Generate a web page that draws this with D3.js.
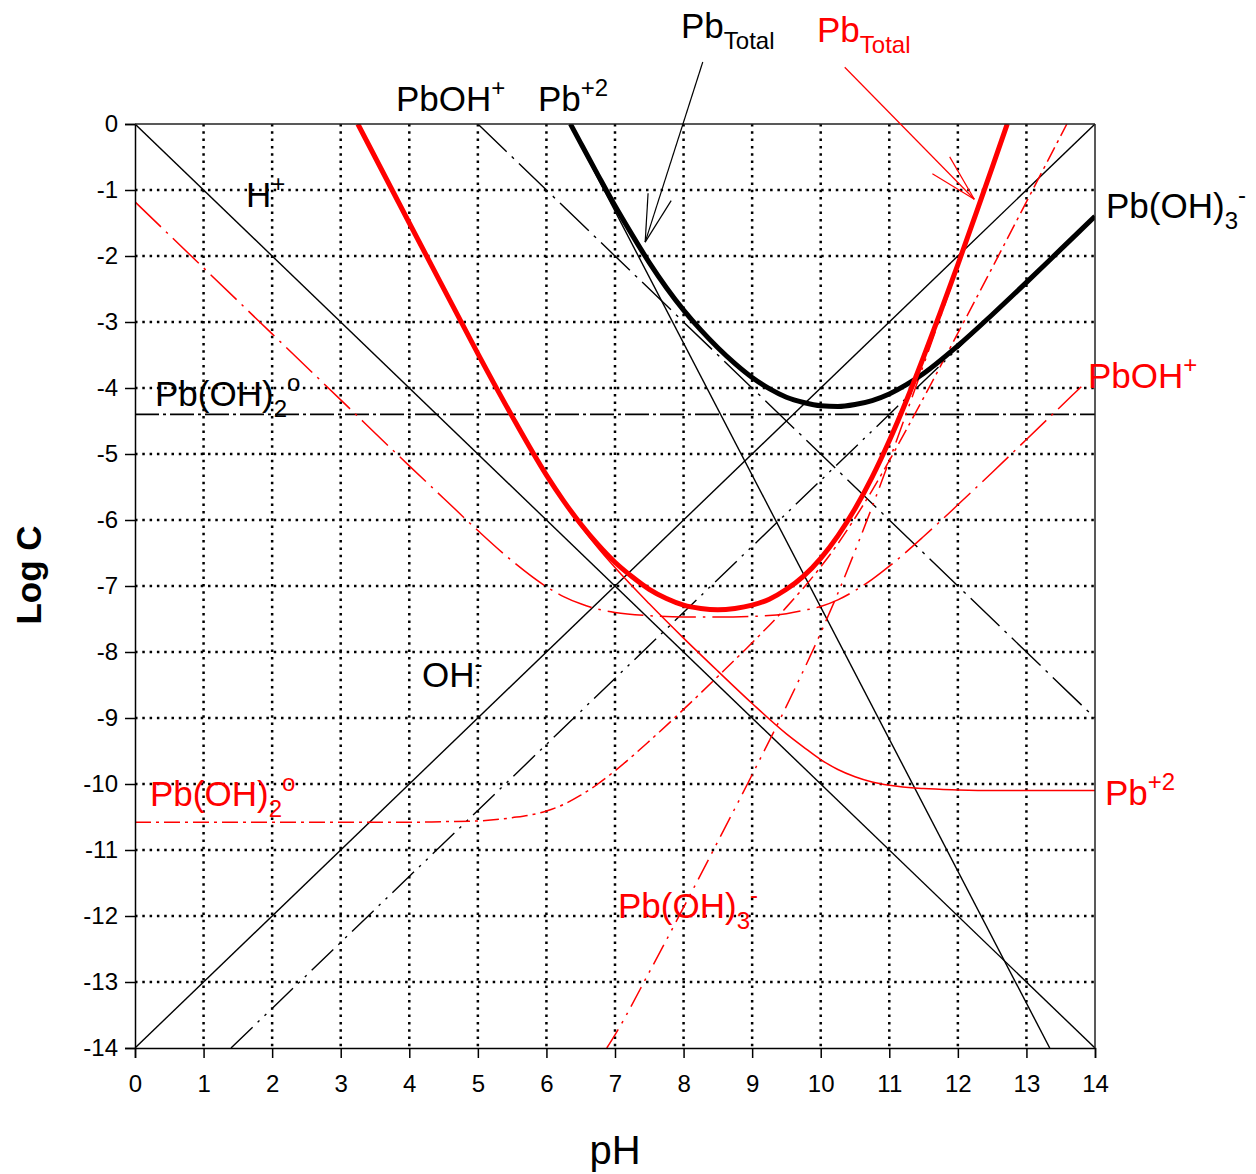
<!DOCTYPE html>
<html><head><meta charset="utf-8">
<script src="https://cdn.jsdelivr.net/npm/d3@7"></script>
<style>
body{margin:0;background:#fff;}
svg text{font-family:"Liberation Sans",Arial,Helvetica,sans-serif;}
</style></head><body>
<svg id="chart" width="1256" height="1174"></svg>
<script>
// ---------- tick values ----------
const pHTicks = [0,1,2,3,4,5,6,7,8,9,10,11,12,13,14];
const logTicks = [0,-1,-2,-3,-4,-5,-6,-7,-8,-9,-10,-11,-12,-13,-14];

// ---------- black system ----------
const blackHplus   = [[0,0],[14,-14]];
const blackOHminus = [[0,-14],[14,0]];
const blackPb2     = [[6.34,0],[13.34,-14]];
const blackPbOH    = [[5.0,0],[14,-9.0]];
const blackPbOH2   = [[0,-4.4],[14,-4.4]];
const blackPbOH3   = [[1.4,-14],[14,-1.4]];
const blackTotal = [[6.35,0],[6.5,-0.29],[6.75,-0.77],[7,-1.24],[7.25,-1.68],[7.5,-2.10],[7.75,-2.48],
  [8,-2.82],[8.25,-3.12],[8.5,-3.39],[8.75,-3.63],[9,-3.84],[9.25,-4.01],[9.5,-4.14],[9.75,-4.22],
  [10,-4.27],[10.25,-4.28],[10.5,-4.25],[10.75,-4.19],[11,-4.09],[11.25,-3.95],[11.5,-3.78],
  [12,-3.36],[12.5,-2.89],[13,-2.40],[13.5,-1.90],[14,-1.40]];

// ---------- red system ----------
const redPb2 = [[3.25,0],[3.5,-0.50],[4,-1.50],[4.5,-2.49],[5,-3.48],[5.5,-4.43],[6,-5.33],[6.25,-5.73],
  [6.5,-6.09],[6.75,-6.42],[7,-6.72],[7.5,-7.27],[8,-7.79],[8.5,-8.29],[9,-8.78],[9.5,-9.24],[9.75,-9.44],
  [10,-9.63],[10.25,-9.78],[10.5,-9.89],[10.75,-9.97],[11,-10.02],[11.5,-10.07],[12,-10.09],[12.5,-10.10],
  [13,-10.10],[14,-10.10]];
const redPbOH = [[0,-1.18],[1,-2.18],[2,-3.18],[3,-4.18],[4,-5.18],[4.5,-5.67],[5,-6.16],[5.5,-6.62],
  [6,-7.01],[6.25,-7.16],[6.5,-7.27],[6.75,-7.35],[7,-7.40],[7.5,-7.45],[8,-7.47],[8.5,-7.47],[9,-7.46],
  [9.5,-7.42],[9.75,-7.37],[10,-7.31],[10.25,-7.21],[10.5,-7.07],[10.75,-6.90],[11,-6.70],[11.5,-6.25],
  [12,-5.77],[12.5,-5.28],[13,-4.78],[13.5,-4.28],[13.8,-3.98]];
const redPbOH2 = [[0,-10.58],[1,-10.58],[2,-10.58],[3,-10.58],[4,-10.58],[4.5,-10.57],[5,-10.56],
  [5.5,-10.51],[6,-10.41],[6.25,-10.31],[6.5,-10.17],[6.75,-10.00],[7,-9.80],[7.5,-9.35],[8,-8.87],
  [8.5,-8.37],[9,-7.86],[9.5,-7.32],[10,-6.71],[10.25,-6.36],[10.5,-5.97],[10.75,-5.55],[11,-5.10],
  [11.25,-4.63],[11.5,-4.15],[12,-3.17],[12.5,-2.18],[13,-1.18],[13.59,0]];
const redPbOH3 = [[6.88,-14.0],[7,-13.80],[7.5,-12.85],[8,-11.87],[8.5,-10.87],[9,-9.86],[9.5,-8.82],
  [10,-7.71],[10.25,-7.11],[10.5,-6.47],[10.75,-5.80],[11,-5.10],[11.25,-4.38],[11.5,-3.65],
  [11.75,-2.91],[12,-2.17],[12.5,-0.68],[12.73,0]];
const redTotal = [[3.25,0],[3.5,-0.50],[4,-1.50],[4.5,-2.49],[5,-3.48],[5.5,-4.43],[6,-5.32],[6.25,-5.71],
  [6.5,-6.06],[6.75,-6.37],[7,-6.64],[7.25,-6.86],[7.5,-7.05],[7.75,-7.19],[8,-7.29],[8.25,-7.34],
  [8.5,-7.36],[8.75,-7.34],[9,-7.29],[9.25,-7.20],[9.5,-7.05],[9.75,-6.85],[10,-6.58],[10.25,-6.24],
  [10.5,-5.83],[10.75,-5.35],[11,-4.80],[11.25,-4.19],[11.5,-3.53],[11.75,-2.84],[12,-2.13],
  [12.25,-1.40],[12.5,-0.66],[12.72,0]];

// ---------- layout ----------
const svg = d3.select("#chart");
const X0 = 135, X1 = 1095, Y0 = 124, Y1 = 1048;
const x = d3.scaleLinear().domain([0,14]).range([X0,X1]);
const y = d3.scaleLinear().domain([0,-14]).range([Y0,Y1]);

svg.append("rect").attr("width",1256).attr("height",1174).attr("fill","#fff");

svg.append("clipPath").attr("id","plotclip").append("rect")
  .attr("x",X0).attr("y",Y0).attr("width",X1-X0).attr("height",Y1-Y0);

// grid
const grid = svg.append("g");
grid.selectAll("line.v").data(pHTicks.filter(d=>d>0&&d<14)).join("line")
  .attr("x1",d=>x(d)).attr("x2",d=>x(d)).attr("y1",Y0).attr("y2",Y1)
  .attr("stroke","#000").attr("stroke-width",2.5).attr("stroke-dasharray","2.5,4.8");
grid.selectAll("line.h").data(logTicks.filter(d=>d<0&&d>-14)).join("line")
  .attr("y1",d=>y(d)).attr("y2",d=>y(d)).attr("x1",X0).attr("x2",X1)
  .attr("stroke","#000").attr("stroke-width",2.5).attr("stroke-dasharray","2.5,4.8");

const line = d3.line().x(d=>x(d[0])).y(d=>y(d[1])).curve(d3.curveMonotoneX);
const plot = svg.append("g").attr("clip-path","url(#plotclip)");
function draw(data, color, width, dash){
  plot.append("path").datum(data).attr("d",line).attr("fill","none")
    .attr("stroke",color).attr("stroke-width",width)
    .attr("stroke-dasharray",dash||null).attr("stroke-linejoin","round");
}
// black thin
draw(blackHplus,"#000",1.4);
draw(blackOHminus,"#000",1.4);
draw(blackPb2,"#000",1.4);
draw(blackPbOH,"#000",1.4,"40,7,3,7");
draw(blackPbOH2,"#000",1.6,"24,4,3,4");
draw(blackPbOH3,"#000",1.4,"30,7,2.5,7,2.5,7");
// red thin
draw(redPbOH,"#ff0000",1.5,"36,7,2.5,7");
draw(redPbOH2,"#ff0000",1.5,"16,5,3,5");
draw(redPbOH3,"#ff0000",1.5,"22,7,2.5,7,2.5,7");
draw(redPb2,"#ff0000",1.5);
// thick
draw(blackTotal,"#000",5);
draw(redTotal,"#ff0000",5);

// axes
const xAxis = svg.append("g").attr("transform",`translate(0,${Y1})`)
  .call(d3.axisBottom(x).tickValues(pHTicks).tickFormat(d3.format("d")).tickSize(10).tickPadding(17));
const yAxis = svg.append("g").attr("transform",`translate(${X0},0)`)
  .call(d3.axisLeft(y).tickValues(logTicks).tickFormat(d=>d===0?"0":"-"+Math.abs(d)).tickSize(10).tickPadding(7));
[xAxis,yAxis].forEach(a=>{
  a.selectAll("path,line").attr("stroke","#000").attr("stroke-width",1.5);
  a.selectAll("text").attr("font-size",24).attr("fill","#000")
   .style("font-family","'Liberation Sans',Arial,sans-serif");
});
// frame top & right
svg.append("line").attr("x1",X0).attr("x2",X1).attr("y1",Y0).attr("y2",Y0).attr("stroke","#222").attr("stroke-width",1.5);
svg.append("line").attr("x1",X1).attr("x2",X1).attr("y1",Y0).attr("y2",Y1).attr("stroke","#222").attr("stroke-width",1.5);

// axis titles
svg.append("text").attr("x",615).attr("y",1164).attr("text-anchor","middle")
  .attr("font-size",40).text("pH");
svg.append("text").attr("transform","translate(41,575) rotate(-90)").attr("text-anchor","middle")
  .attr("font-size",35).attr("font-weight","bold").text("Log C");

// species labels
function label(px, py, parts, color){
  const t = svg.append("text").attr("x",px).attr("y",py).attr("fill",color).attr("font-size",35);
  let shift = 0;
  parts.forEach(p=>{
    const [txt, kind] = p;
    let target = kind==="sub" ? 11 : kind==="sup" ? -15 : 0;
    t.append("tspan").attr("dy", target - shift)
      .attr("font-size", kind ? 24 : 35).text(txt);
    shift = target;
  });
}
label(396,111,[["PbOH"],["+","sup"]],"#000");
label(538,111,[["Pb"],["+2","sup"]],"#000");
label(681,38,[["Pb"],["Total","sub"]],"#000");
label(817,42,[["Pb"],["Total","sub"]],"#ff0000");
label(246,207,[["H"],["+","sup"]],"#000");
label(155,406,[["Pb(OH)"],["2","sub"],["o","sup"]],"#000");
label(422,687,[["OH"],["-","sup"]],"#000");
label(1106,218,[["Pb(OH)"],["3","sub"],["-","sup"]],"#000");
label(1088,388,[["PbOH"],["+","sup"]],"#ff0000");
label(1105,805,[["Pb"],["+2","sup"]],"#ff0000");
label(150,806,[["Pb(OH)"],["2","sub"],["o","sup"]],"#ff0000");
label(618,918,[["Pb(OH)"],["3","sub"],["-","sup"]],"#ff0000");

// arrows (pointer lines)
function arrow(from, to, color){
  const x1=x(from[0]), y1=y(from[1]), x2=x(to[0]), y2=y(to[1]);
  const ang = Math.atan2(y1-y2, x1-x2);
  const g = svg.append("g").attr("stroke",color).attr("stroke-width",1.2).attr("fill","none");
  g.append("line").attr("x1",x1).attr("y1",y1).attr("x2",x2).attr("y2",y2);
  [-0.25,0.25].forEach(da=>{
    g.append("line").attr("x1",x2).attr("y1",y2)
      .attr("x2",x2+49*Math.cos(ang+da)).attr("y2",y2+49*Math.sin(ang+da));
  });
}
arrow([8.28,0.94],[7.44,-1.79],"#000");
arrow([10.35,0.86],[12.24,-1.14],"#ff0000");
</script>
</body></html>
